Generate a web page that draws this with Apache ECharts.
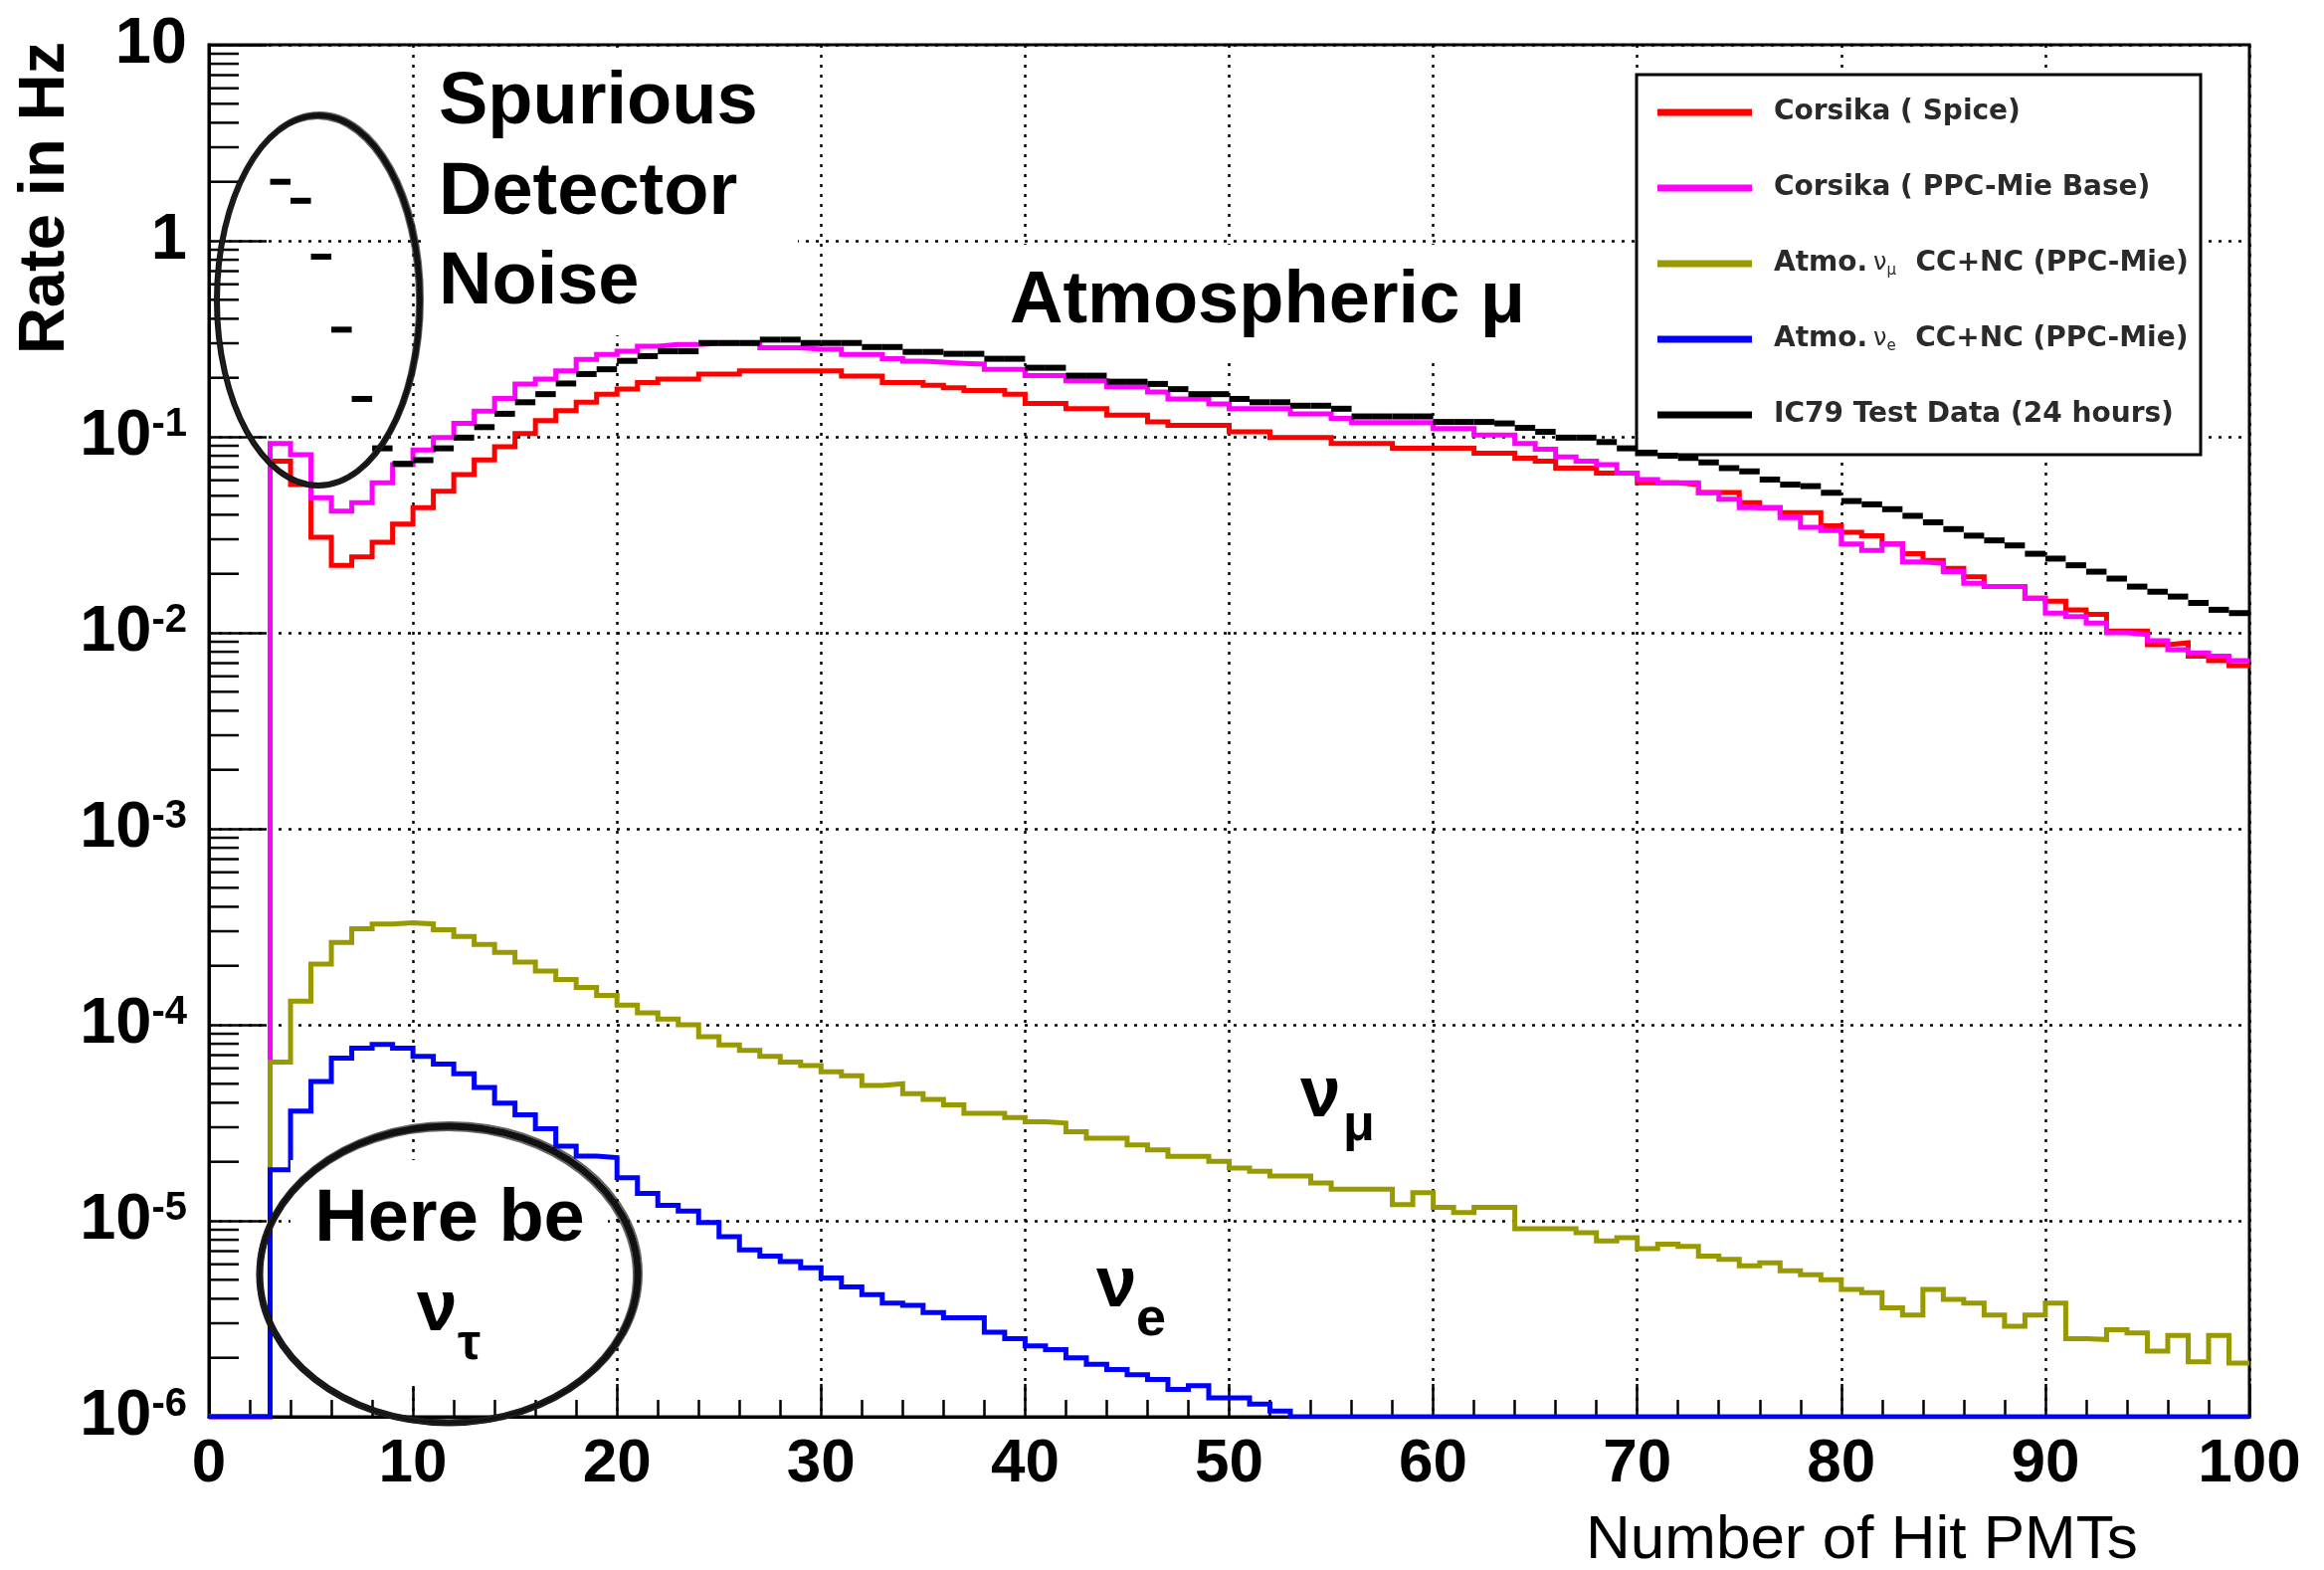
<!DOCTYPE html>
<html>
<head>
<meta charset="utf-8">
<title>Rate vs Number of Hit PMTs</title>
<script src="https://cdn.jsdelivr.net/npm/echarts@6/dist/echarts.min.js"></script>
<style>
  html, body { margin: 0; padding: 0; background: #ffffff; }
  #chart { width: 2336px; height: 1578px; }
</style>
</head>
<body>
<div id="chart"></div>
<script>
// ---- Data: rate in Hz per one-PMT-wide bin, bins 0..99 (0 = empty bin) ----
const rateSpice = [
  0, 0, 0, 0.075, 0.057, 0.0307, 0.0221, 0.0244, 0.029, 0.0359,
  0.0435, 0.0528, 0.0641, 0.0762, 0.089, 0.104, 0.121, 0.136, 0.15, 0.165,
  0.175, 0.189, 0.197, 0.197, 0.209, 0.209, 0.217, 0.217, 0.217, 0.217,
  0.217, 0.204, 0.204, 0.189, 0.189, 0.183, 0.178, 0.172, 0.172, 0.165,
  0.148, 0.148, 0.139, 0.139, 0.129, 0.129, 0.119, 0.1145, 0.1145, 0.1145,
  0.106, 0.106, 0.099, 0.099, 0.099, 0.0925, 0.0925, 0.0925, 0.0873, 0.0873,
  0.0873, 0.0873, 0.0824, 0.0824, 0.0778, 0.075, 0.0692, 0.0692, 0.0653, 0.0653,
  0.0582, 0.0582, 0.057, 0.052, 0.052, 0.0461, 0.0435, 0.041, 0.041, 0.0351,
  0.0326, 0.0313, 0.0284, 0.0253, 0.0234, 0.0213, 0.0193, 0.0172, 0.0172, 0.015,
  0.0145, 0.0131, 0.0124, 0.0102, 0.0102, 0.0087, 0.0089, 0.0076, 0.0072, 0.0068
];
const ratePpcMie = [
  0, 0, 0, 0.0925, 0.081, 0.0489, 0.0418, 0.0461, 0.0582, 0.072,
  0.0857, 0.099, 0.117, 0.135, 0.157, 0.186, 0.197, 0.217, 0.248, 0.263,
  0.273, 0.29, 0.296, 0.296, 0.30, 0.30, 0.30, 0.285, 0.285, 0.28,
  0.28, 0.263, 0.263, 0.25, 0.243, 0.24, 0.237, 0.235, 0.221, 0.221,
  0.205, 0.205, 0.193, 0.193, 0.18, 0.18, 0.169, 0.156, 0.156, 0.147,
  0.139, 0.139, 0.139, 0.131, 0.131, 0.124, 0.118, 0.118, 0.118, 0.118,
  0.110, 0.110, 0.102, 0.102, 0.0925, 0.0863, 0.079, 0.075, 0.072, 0.0653,
  0.0605, 0.0582, 0.0582, 0.0518, 0.048, 0.0435, 0.0435, 0.0387, 0.0345, 0.0332,
  0.0284, 0.0263, 0.0284, 0.023, 0.0226, 0.0205, 0.0179, 0.0172, 0.0172, 0.015,
  0.0126, 0.0121, 0.0112, 0.0100, 0.0098, 0.0091, 0.0082, 0.0079, 0.0076, 0.0072
];
const rateNuMu = [
  0, 0, 0, 6.45e-5, 1.32e-4, 2.04e-4, 2.63e-4, 3.09e-4, 3.27e-4, 3.31e-4,
  3.27e-4, 3.05e-4, 2.82e-4, 2.57e-4, 2.34e-4, 2.09e-4, 1.88e-4, 1.70e-4, 1.55e-4, 1.41e-4,
  1.26e-4, 1.15e-4, 1.07e-4, 1.0e-4, 8.7e-5, 7.9e-5, 7.4e-5, 6.9e-5, 6.45e-5, 6.2e-5,
  5.75e-5, 5.5e-5, 4.9e-5, 5.0e-5, 4.45e-5, 4.16e-5, 3.9e-5, 3.53e-5, 3.53e-5, 3.36e-5,
  3.2e-5, 3.15e-5, 2.85e-5, 2.64e-5, 2.64e-5, 2.44e-5, 2.3e-5, 2.13e-5, 2.13e-5, 2.01e-5,
  1.86e-5, 1.79e-5, 1.69e-5, 1.69e-5, 1.56e-5, 1.45e-5, 1.45e-5, 1.45e-5, 1.21e-5, 1.39e-5,
  1.17e-5, 1.1e-5, 1.17e-5, 1.17e-5, 9.1e-6, 9.1e-6, 9.1e-6, 8.7e-6, 7.9e-6, 8.2e-6,
  7.2e-6, 7.6e-6, 7.4e-6, 6.6e-6, 6.35e-6, 5.9e-6, 6.1e-6, 5.55e-6, 5.3e-6, 5.0e-6,
  4.46e-6, 4.3e-6, 3.6e-6, 3.3e-6, 4.46e-6, 3.97e-6, 3.8e-6, 3.3e-6, 2.9e-6, 3.3e-6,
  3.8e-6, 2.5e-6, 2.48e-6, 2.78e-6, 2.68e-6, 2.16e-6, 2.6e-6, 1.91e-6, 2.6e-6, 1.88e-6
];
const rateNuE = [
  0, 0, 0, 1.82e-5, 3.63e-5, 5.13e-5, 6.76e-5, 7.59e-5, 7.94e-5, 7.59e-5,
  6.9e-5, 6.3e-5, 5.62e-5, 4.79e-5, 3.98e-5, 3.47e-5, 2.95e-5, 2.4e-5, 2.14e-5, 2.1e-5,
  1.66e-5, 1.38e-5, 1.2e-5, 1.12e-5, 9.8e-6, 8.3e-6, 7.1e-6, 6.6e-6, 6.2e-6, 5.75e-6,
  5.1e-6, 4.6e-6, 4.2e-6, 3.8e-6, 3.7e-6, 3.4e-6, 3.2e-6, 3.2e-6, 2.7e-6, 2.5e-6,
  2.3e-6, 2.2e-6, 2.0e-6, 1.85e-6, 1.74e-6, 1.64e-6, 1.55e-6, 1.38e-6, 1.44e-6, 1.25e-6,
  1.25e-6, 1.16e-6, 1.07e-6, 0, 0, 0, 0, 0, 0, 0,
  0, 0, 0, 0, 0, 0, 0, 0, 0, 0,
  0, 0, 0, 0, 0, 0, 0, 0, 0, 0,
  0, 0, 0, 0, 0, 0, 0, 0, 0, 0,
  0, 0, 0, 0, 0, 0, 0, 0, 0, 0
];
const rateIC79 = [
  0, 0, 0, 2.0, 1.6, 0.83, 0.352, 0.156, 0.0873, 0.0728,
  0.076, 0.0873, 0.099, 0.112, 0.131, 0.15, 0.165, 0.187, 0.209, 0.221,
  0.244, 0.258, 0.273, 0.273, 0.301, 0.301, 0.301, 0.313, 0.313, 0.301,
  0.301, 0.301, 0.287, 0.287, 0.271, 0.271, 0.265, 0.265, 0.25, 0.25,
  0.225, 0.225, 0.205, 0.205, 0.191, 0.191, 0.186, 0.175, 0.165, 0.165,
  0.156, 0.15, 0.15, 0.144, 0.144, 0.139, 0.127, 0.127, 0.127, 0.127,
  0.119, 0.119, 0.119, 0.117, 0.111, 0.106, 0.099, 0.099, 0.094, 0.0873,
  0.083, 0.08, 0.078, 0.074, 0.0692, 0.0666, 0.0605, 0.057, 0.056, 0.0518,
  0.047, 0.0452, 0.0427, 0.0395, 0.0366, 0.0338, 0.0313, 0.0296, 0.0279, 0.0253,
  0.0239, 0.0221, 0.0205, 0.0189, 0.0172, 0.0162, 0.0153, 0.0142, 0.0131, 0.0126
];

// Series names (legend entries)
const seriesNames = [
  'Corsika ( Spice)',
  'Corsika ( PPC-Mie Base)',
  'Atmo. numu CC+NC (PPC-Mie)',
  'Atmo. nue CC+NC (PPC-Mie)',
  'IC79 Test Data (24 hours)'
];
const legendLabels = {
  'Corsika ( Spice)': 'Corsika ( Spice)',
  'Corsika ( PPC-Mie Base)': 'Corsika ( PPC-Mie Base)',
  'Atmo. numu CC+NC (PPC-Mie)': 'Atmo.{nu|ν}{sub|μ}  CC+NC (PPC-Mie)',
  'Atmo. nue CC+NC (PPC-Mie)': 'Atmo.{nu|ν}{sub|e}  CC+NC (PPC-Mie)',
  'IC79 Test Data (24 hours)': 'IC79 Test Data (24 hours)'
};

// Axis ticks
const xMin = 0, xMax = 100, xStep = 10;
const yMin = 1e-6, yMax = 10;
const yExponents = [-6, -5, -4, -3, -2, -1, 0, 1];
const yTickText = [
  '{b|10}{s|-6}', '{b|10}{s|-5}', '{b|10}{s|-4}', '{b|10}{s|-3}',
  '{b|10}{s|-2}', '{b|10}{s|-1}', '{b|1}', '{b|10}'
];
const yMinorMantissas = [2, 3, 4, 5, 6, 7, 8, 9];

// Minor ticks of the log axis at 2..9 x 10^k
const yMinorTicks = [];
yExponents.slice(0, -1).forEach(k => yMinorMantissas.forEach(m => yMinorTicks.push([0, m * Math.pow(10, k)])));

// Histogram outline: empty bins sit on the lower frame edge like the ROOT drawing
function histPoints(values) {
  const pts = values.map((v, i) => [i, v > 0 ? v : yMin]);
  pts.push([values.length, pts[pts.length - 1][1]]);
  return pts;
}

const colors = ['#ff0000', '#ff00ff', '#999900', '#0000ff', '#000000'];
const FONT = 'Liberation Sans';

function stepSeries(idx, values) {
  return {
    type: 'line',
    name: seriesNames[idx],
    data: histPoints(values),
    step: 'end',
    symbol: 'none',
    showSymbol: false,
    lineStyle: { color: colors[idx], width: 5, join: 'miter', cap: 'butt' },
    itemStyle: { color: colors[idx] },
    z: 2,
    silent: true
  };
}

const chart = echarts.init(document.getElementById('chart'), null, { renderer: 'canvas' });

const option = {
  animation: false,
  backgroundColor: '#ffffff',
  grid: {
    left: 210, top: 45, right: 75, bottom: 154,
    show: true, borderColor: '#000', borderWidth: 3, backgroundColor: 'transparent'
  },
  xAxis: {
    type: 'value',
    min: xMin, max: xMax, interval: xStep,
    axisLine: { show: true, onZero: false, lineStyle: { color: '#000', width: 3 } },
    axisTick: { show: true, inside: true, length: 33, lineStyle: { color: '#000', width: 2.5 } },
    minorTick: { show: true, splitNumber: 5, length: 17, lineStyle: { color: '#000', width: 2.5 } },
    splitLine: { show: true, lineStyle: { color: '#000', width: 2.5, type: [3, 7] } },
    axisLabel: {
      margin: 17, color: '#000', fontFamily: FONT, fontWeight: 'bold', fontSize: 62
    }
  },
  yAxis: {
    type: 'log',
    logBase: 10,
    min: yMin, max: yMax,
    splitNumber: 7,
    axisLine: { show: true, onZero: false, lineStyle: { color: '#000', width: 3 } },
    axisTick: { show: true, inside: true, length: 58, lineStyle: { color: '#000', width: 2.5 } },
    splitLine: { show: true, lineStyle: { color: '#000', width: 2.5, type: [3, 7] } },
    axisLabel: {
      margin: 22,
      formatter: function (v) {
        const i = yExponents.indexOf(Math.round(Math.log10(v)));
        return i >= 0 ? yTickText[i] : '';
      },
      rich: {
        b: { fontFamily: FONT, fontWeight: 'bold', fontSize: 65, lineHeight: 64, color: '#000' },
        s: { fontFamily: FONT, fontWeight: 'bold', fontSize: 40, lineHeight: 28, verticalAlign: 'top', color: '#000' }
      }
    }
  },
  legend: {
    orient: 'vertical',
    left: 1666, top: 98,
    padding: 0,
    itemWidth: 95, itemHeight: 7, itemGap: 46,
    icon: 'rect',
    selectedMode: false,
    data: seriesNames,
    formatter: name => legendLabels[name],
    textStyle: {
      fontFamily: 'DejaVu Sans', fontWeight: 'bold', fontSize: 28, color: '#2a2a2a',
      lineHeight: 30, padding: [0, 0, 0, 17],
      rich: {
        nu: { fontFamily: 'DejaVu Sans', fontWeight: 'normal', fontSize: 24, lineHeight: 30, color: '#2a2a2a', padding: [0, 0, 0, 6] },
        sub: { fontFamily: 'DejaVu Sans', fontWeight: 'normal', fontSize: 15, lineHeight: 30, verticalAlign: 'bottom', color: '#2a2a2a' }
      }
    },
    z: 6
  },
  series: [
    stepSeries(0, rateSpice),
    stepSeries(1, ratePpcMie),
    stepSeries(2, rateNuMu),
    stepSeries(3, rateNuE),
    {
      // test data: one horizontal bar per filled bin
      type: 'custom',
      name: seriesNames[4],
      data: rateIC79.map((v, i) => [i, v]).filter(d => d[1] > 0),
      encode: { x: 0, y: 1 },
      itemStyle: { color: '#000' },
      renderItem: function (params, api) {
        const x0 = api.value(0), v = api.value(1);
        const a = api.coord([x0, v]);
        const b = api.coord([x0 + 1, v]);
        return {
          type: 'line',
          shape: { x1: a[0], y1: a[1], x2: b[0], y2: b[1] },
          style: { stroke: '#000', lineWidth: 6 }
        };
      },
      z: 3,
      silent: true
    },
    {
      // minor ticks of the logarithmic rate axis
      type: 'custom',
      name: 'yMinorTicks',
      data: yMinorTicks,
      encode: { x: 0, y: 1 },
      renderItem: function (params, api) {
        const p = api.coord([api.value(0), api.value(1)]);
        return {
          type: 'line',
          shape: { x1: p[0], y1: p[1], x2: p[0] + 30, y2: p[1] },
          style: { stroke: '#000', lineWidth: 2.5 }
        };
      },
      z: 3,
      silent: true
    }
  ],
  graphic: [
    // white backing behind annotations and legend
    { type: 'rect', shape: { x: 426, y: 48, width: 376, height: 289 }, style: { fill: '#fff' }, z: 3, silent: true },
    { type: 'rect', shape: { x: 1000, y: 246, width: 545, height: 112 }, style: { fill: '#fff' }, z: 3, silent: true },
    { type: 'rect', shape: { x: 292, y: 1166, width: 319, height: 227 }, style: { fill: '#fff' }, z: 3, silent: true },
    { type: 'rect', shape: { x: 1645, y: 75, width: 567, height: 382 }, style: { fill: '#fff', stroke: '#000', lineWidth: 3 }, z: 3, silent: true },

    // axis titles
    { type: 'text', x: 46, y: 199, rotation: Math.PI / 2,
      style: { text: 'Rate in Hz', fontFamily: FONT, fontWeight: 'bold', fontSize: 65, fill: '#000', align: 'center', verticalAlign: 'middle' }, z: 10 },
    { type: 'text', x: 1594, y: 1549,
      style: { text: 'Number of Hit PMTs', fontFamily: FONT, fontWeight: 'normal', fontSize: 62, fill: '#000', align: 'left', verticalAlign: 'middle' }, z: 10 },

    // annotations
    { type: 'text', x: 441, y: 104, style: { text: 'Spurious', fontFamily: FONT, fontWeight: 'bold', fontSize: 74, fill: '#000', align: 'left', verticalAlign: 'middle' }, z: 10 },
    { type: 'text', x: 441, y: 195, style: { text: 'Detector', fontFamily: FONT, fontWeight: 'bold', fontSize: 74, fill: '#000', align: 'left', verticalAlign: 'middle' }, z: 10 },
    { type: 'text', x: 441, y: 285, style: { text: 'Noise', fontFamily: FONT, fontWeight: 'bold', fontSize: 74, fill: '#000', align: 'left', verticalAlign: 'middle' }, z: 10 },
    { type: 'text', x: 1015, y: 304, style: { text: 'Atmospheric μ', fontFamily: FONT, fontWeight: 'bold', fontSize: 74, fill: '#000', align: 'left', verticalAlign: 'middle' }, z: 10 },

    { type: 'text', x: 1307, y: 1102, style: { text: 'ν', fontFamily: FONT, fontWeight: 'bold', fontSize: 73, fill: '#000', align: 'left', verticalAlign: 'middle' }, z: 10 },
    { type: 'text', x: 1350, y: 1132, style: { text: 'μ', fontFamily: FONT, fontWeight: 'bold', fontSize: 52, fill: '#000', align: 'left', verticalAlign: 'middle' }, z: 10 },
    { type: 'text', x: 1102, y: 1293, style: { text: 'ν', fontFamily: FONT, fontWeight: 'bold', fontSize: 73, fill: '#000', align: 'left', verticalAlign: 'middle' }, z: 10 },
    { type: 'text', x: 1142, y: 1327, style: { text: 'e', fontFamily: FONT, fontWeight: 'bold', fontSize: 54, fill: '#000', align: 'left', verticalAlign: 'middle' }, z: 10 },

    { type: 'text', x: 452, y: 1227, style: { text: 'Here be', fontFamily: FONT, fontWeight: 'bold', fontSize: 74, fill: '#000', align: 'center', verticalAlign: 'middle' }, z: 10 },
    { type: 'text', x: 419, y: 1317, style: { text: 'ν', fontFamily: FONT, fontWeight: 'bold', fontSize: 73, fill: '#000', align: 'left', verticalAlign: 'middle' }, z: 10 },
    { type: 'text', x: 460, y: 1352, style: { text: 'τ', fontFamily: FONT, fontWeight: 'bold', fontSize: 52, fill: '#000', align: 'left', verticalAlign: 'middle' }, z: 10 },

    // hand-drawn style rings
    { type: 'ellipse', shape: { cx: 320, cy: 302, rx: 102, ry: 186 }, style: { fill: 'none', stroke: '#111', lineWidth: 6 }, z: 11, silent: true },
    { type: 'ellipse', shape: { cx: 321, cy: 301, rx: 104, ry: 188 }, style: { fill: 'none', stroke: '#222', lineWidth: 2, opacity: 0.7 }, z: 11, silent: true },
    { type: 'ellipse', shape: { cx: 319, cy: 303, rx: 100, ry: 184 }, style: { fill: 'none', stroke: '#222', lineWidth: 2, opacity: 0.7 }, z: 11, silent: true },
    { type: 'ellipse', shape: { cx: 451, cy: 1281, rx: 190, ry: 149 }, style: { fill: 'none', stroke: '#111', lineWidth: 7 }, z: 11, silent: true },
    { type: 'ellipse', shape: { cx: 452, cy: 1280, rx: 193, ry: 152 }, style: { fill: 'none', stroke: '#222', lineWidth: 2, opacity: 0.7 }, z: 11, silent: true },
    { type: 'ellipse', shape: { cx: 450, cy: 1282, rx: 187, ry: 146 }, style: { fill: 'none', stroke: '#222', lineWidth: 2, opacity: 0.7 }, z: 11, silent: true }
  ]
};

chart.setOption(option);
</script>
</body>
</html>
